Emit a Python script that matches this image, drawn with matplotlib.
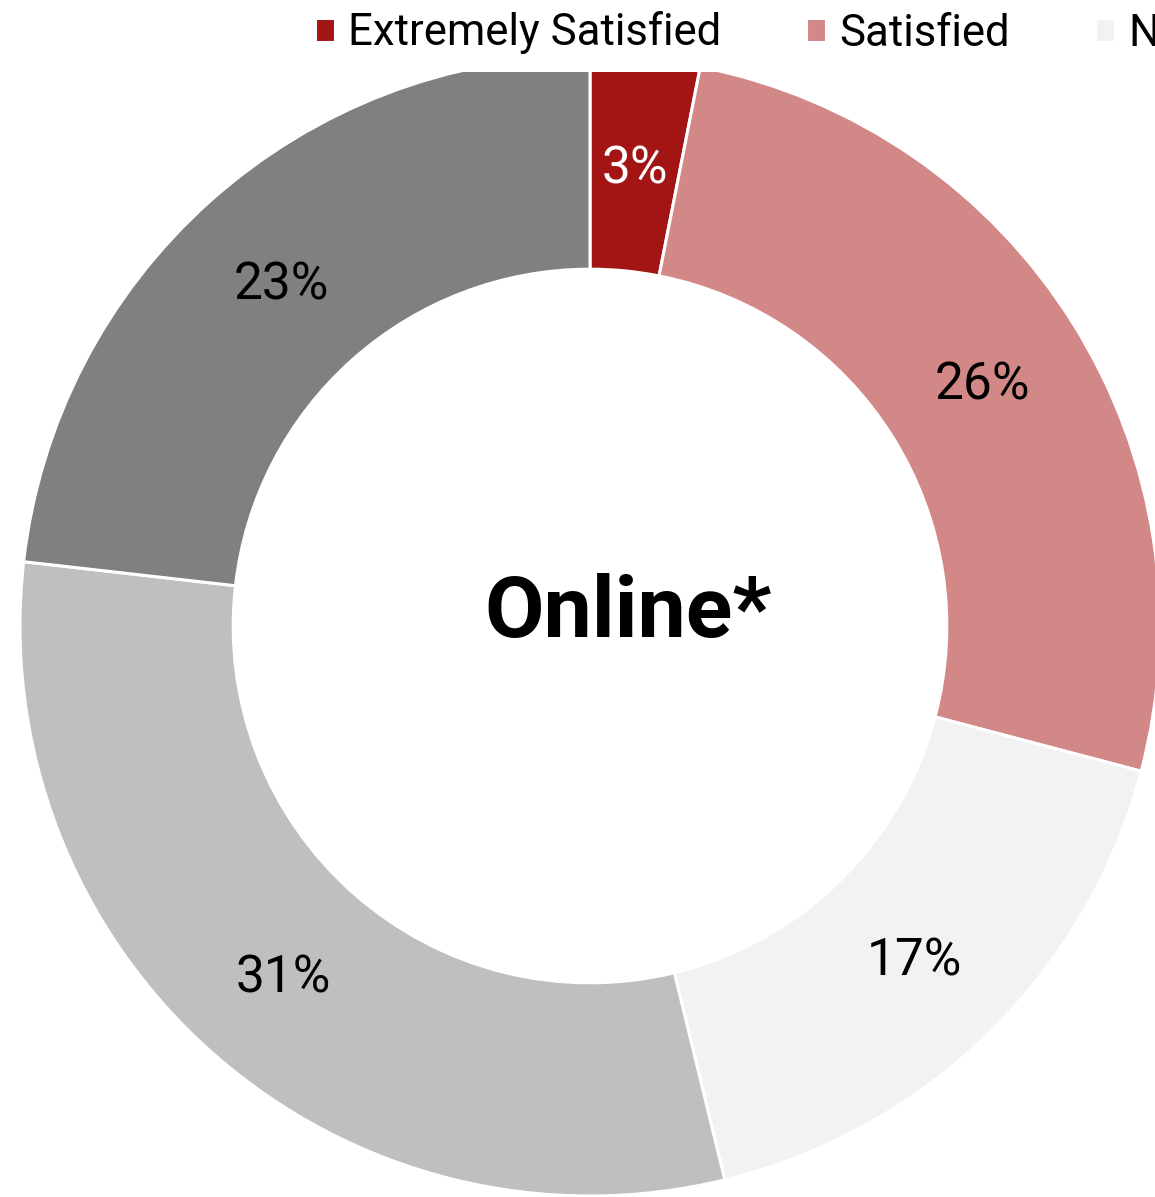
import matplotlib.pyplot as plt

plt.rcParams['font.family'] = ['Roboto', 'DejaVu Sans']

categories = ["Extremely Satisfied", "Satisfied", "Neutral", "Dissatisfied",
              "Extremely Dissatisfied"]
shares = [3.1, 26.0, 17.1, 30.6, 23.2]
colors = ["#A31515", "#D38888", "#F2F2F2", "#BFBFBF", "#808080"]
label_colors = ["white", "black", "black", "black", "black"]
center_text = "Online*"

W, H = 1155, 1197
fig = plt.figure(figsize=(W / 100, H / 100), dpi=100)

# axes ends where the legend strip begins, so the ring top gets clipped
top = 1125
ax = fig.add_axes([0, 0, 1, top / H])

R = 570
wedges, _, autotexts = ax.pie(
    shares, colors=colors, startangle=90, counterclock=False,
    center=(590, H - 626), radius=R, frame=True,
    autopct='%1.0f%%', pctdistance=0.813,
    wedgeprops=dict(width=R * 0.374, edgecolor='white', linewidth=2.2),
    textprops=dict(fontsize=37))
ax.set_xlim(0, W)
ax.set_ylim(0, top)
ax.set_aspect('equal')
ax.axis('off')
for w in wedges:
    w.set_clip_on(True)
    w.set_clip_box(ax.bbox)
for t, c in zip(autotexts, label_colors):
    t.set_color(c)
    x, y = t.get_position()
    t.set_position((x, y - 5))

ax.text(628, H - 613, center_text, ha='center', va='center',
        fontsize=62, fontweight='bold')

fig.legend(wedges, categories, loc='center left',
           bbox_to_anchor=(315 / W, 1 - 33 / H), ncol=5, frameon=False,
           fontsize=31.5, handlelength=0.45, handleheight=0.45,
           handletextpad=0.3, columnspacing=1.95, borderaxespad=0,
           borderpad=0)

fig.savefig("out.png", dpi=100)
